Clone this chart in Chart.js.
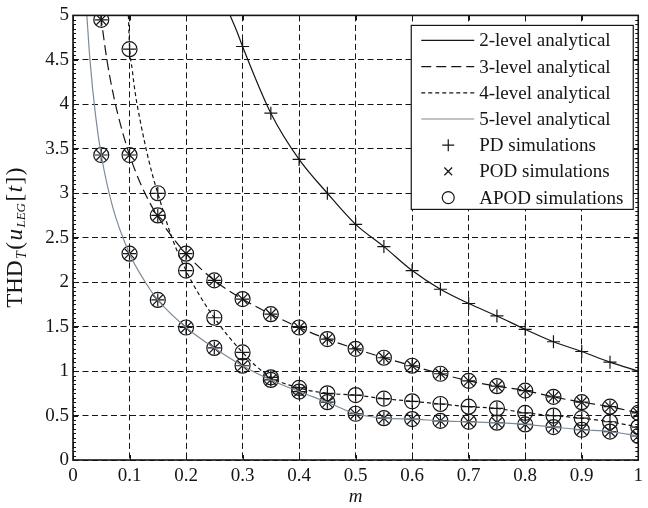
<!DOCTYPE html>
<html>
<head>
<meta charset="utf-8">
<script src="https://cdn.jsdelivr.net/npm/chart.js@4.4.1/dist/chart.umd.min.js"></script>
<style>
  html, body { margin: 0; padding: 0; background: #fff; }
</style>
</head>
<body>
<canvas id="thdChart" width="648" height="508"></canvas>
<script>
// tick values / labels
const xTicks = [0, 0.1, 0.2, 0.3, 0.4, 0.5, 0.6, 0.7, 0.8, 0.9, 1];
const xTickLabels = ['0', '0.1', '0.2', '0.3', '0.4', '0.5', '0.6', '0.7', '0.8', '0.9', '1'];
const yTicks = [0, 0.5, 1, 1.5, 2, 2.5, 3, 3.5, 4, 4.5, 5];
const yTickLabels = ['0', '0.5', '1', '1.5', '2', '2.5', '3', '3.5', '4', '4.5', '5'];

// modulation index used for the simulations
const mSim = [0.05, 0.1, 0.15, 0.2, 0.25, 0.3, 0.35, 0.4, 0.45, 0.5,
              0.55, 0.6, 0.65, 0.7, 0.75, 0.8, 0.85, 0.9, 0.95, 1.0];

// simulated THD per number of levels (null = off the chart)
const thd2Sim = [null, null, null, null, null, 4.65, 3.9, 3.38, 3.0, 2.65,
                 2.4, 2.13, 1.92, 1.76, 1.62, 1.47, 1.33, 1.22, 1.1, 1.0];
const thd3Sim = [4.95, 3.43, 2.75, 2.32, 2.02, 1.81, 1.64, 1.49, 1.36, 1.25,
                 1.15, 1.06, 0.97, 0.89, 0.83, 0.78, 0.71, 0.65, 0.6, 0.53];
const thd4Sim = [null, 4.62, 3.0, 2.13, 1.6, 1.21, 0.93, 0.81, 0.75, 0.73,
                 0.69, 0.66, 0.63, 0.6, 0.58, 0.53, 0.5, 0.47, 0.43, 0.37];
const thd5Sim = [3.43, 2.32, 1.8, 1.49, 1.26, 1.06, 0.9, 0.77, 0.65, 0.52,
                 0.47, 0.46, 0.44, 0.43, 0.42, 0.4, 0.37, 0.34, 0.32, 0.27];

// analytical curves
const m2Line = [0.278, 0.29, 0.3, 0.35, 0.4, 0.45, 0.5, 0.55, 0.6, 0.65, 0.7, 0.75, 0.8, 0.85, 0.9, 0.95, 1.0];
const thd2Line = [5.0, 4.82, 4.65, 3.9, 3.38, 3.0, 2.65, 2.4, 2.13, 1.92, 1.76, 1.62, 1.47, 1.33, 1.22, 1.1, 1.0];

const m3Line = [0.049, 0.06, 0.07, 0.08, 0.1, 0.125, 0.15, 0.2, 0.25, 0.3, 0.35, 0.4, 0.45, 0.5,
                0.55, 0.6, 0.65, 0.7, 0.75, 0.8, 0.85, 0.9, 0.95, 1.0];
const thd3Line = [5.0, 4.5, 4.15, 3.87, 3.43, 3.03, 2.74, 2.32, 2.02, 1.81, 1.64, 1.49, 1.36, 1.25,
                  1.15, 1.06, 0.97, 0.89, 0.83, 0.78, 0.71, 0.65, 0.6, 0.53];

const m4Line = [0.098, 0.1, 0.105, 0.11, 0.12, 0.13, 0.14, 0.15, 0.175, 0.2, 0.225, 0.25, 0.275, 0.3, 0.325,
                0.35, 0.4, 0.45, 0.5, 0.55, 0.6, 0.65, 0.7, 0.75, 0.8, 0.85, 0.9, 0.95, 1.0];
const thd4Line = [5.0, 4.66, 4.38, 4.13, 3.78, 3.48, 3.22, 3.0, 2.5, 2.13, 1.84, 1.6, 1.39, 1.21, 1.05,
                  0.93, 0.81, 0.75, 0.73, 0.69, 0.66, 0.63, 0.6, 0.58, 0.53, 0.5, 0.47, 0.43, 0.37];

const m5Line = [0.0245, 0.03, 0.04, 0.05, 0.07, 0.1, 0.125, 0.15, 0.2, 0.25, 0.3, 0.35, 0.4, 0.45, 0.5,
                0.55, 0.6, 0.65, 0.7, 0.75, 0.8, 0.85, 0.9, 0.95, 1.0];
const thd5Line = [5.0, 4.5, 3.87, 3.43, 2.85, 2.32, 2.03, 1.8, 1.49, 1.26, 1.06, 0.9, 0.77, 0.65, 0.52,
                  0.47, 0.46, 0.44, 0.43, 0.42, 0.4, 0.37, 0.34, 0.32, 0.27];

const serif = '"Liberation Serif", "Times New Roman", serif';
const ink = '#151515';

function simPoints(vals) {
    const out = [];
    vals.forEach((v, i) => {
        if (v !== null) out.push({ x: mSim[i], y: v });
    });
    return out;
}

function linePoints(ms, vals) {
    return ms.map((m, i) => ({ x: m, y: vals[i] }));
}

function analytical(label, ms, vals, color, dash) {
    return {
        label: label,
        data: linePoints(ms, vals),
        borderColor: color,
        borderWidth: 1.2,
        borderDash: dash,
        pointRadius: 0,
        fill: false,
        cubicInterpolationMode: 'monotone'
    };
}

function simulation(label, data, style, radius) {
    return {
        label: label,
        data: data,
        showLine: false,
        pointStyle: style,
        pointRadius: radius,
        pointBorderColor: ink,
        pointBackgroundColor: 'rgba(0,0,0,0)',
        pointBorderWidth: 1.2,
        borderColor: ink,
        backgroundColor: 'rgba(0,0,0,0)'
    };
}

// frame with inward ticks like the original
const frameTicks = {
    id: 'frameTicks',
    afterDatasetsDraw(chart) {
        const { ctx, chartArea: a, scales: { x, y } } = chart;
        ctx.save();
        ctx.strokeStyle = ink;
        ctx.setLineDash([]);
        ctx.lineWidth = 1;
        ctx.beginPath();
        xTicks.forEach(v => {
            const px = Math.round(x.getPixelForValue(v)) + 0.5;
            ctx.moveTo(px, a.bottom); ctx.lineTo(px, a.bottom - 5);
            ctx.moveTo(px, a.top); ctx.lineTo(px, a.top + 5);
        });
        yTicks.forEach(v => {
            const py = Math.round(y.getPixelForValue(v)) + 0.5;
            ctx.moveTo(a.left, py); ctx.lineTo(a.left + 5, py);
            ctx.moveTo(a.right, py); ctx.lineTo(a.right - 5, py);
        });
        // minor ticks on the vertical axes
        for (let i = 0; i <= 100; i++) {
            const py = Math.round(y.getPixelForValue(i * 0.05)) + 0.5;
            ctx.moveTo(a.left, py); ctx.lineTo(a.left + 3, py);
            ctx.moveTo(a.right, py); ctx.lineTo(a.right - 3, py);
        }
        ctx.stroke();
        ctx.lineWidth = 1.6;
        ctx.strokeRect(a.left, a.top, a.right - a.left, a.bottom - a.top);
        ctx.restore();
    }
};

// y title with subscripts: THD_T(u_LEG[t])
const yTitle = {
    id: 'yTitle',
    afterDraw(chart) {
        const { ctx, chartArea: a } = chart;
        const gap = 1.5;
        const parts = [
            { t: 'THD', f: '23px ' + serif, dy: 0 },
            { t: 'T', f: 'italic 14px ' + serif, dy: 6 },
            { t: '(', f: '23px ' + serif, dy: 0 },
            { t: 'u', f: 'italic 23px ' + serif, dy: 0 },
            { t: 'LEG', f: 'italic 13px ' + serif, dy: 6 },
            { t: '[', f: '23px ' + serif, dy: 0 },
            { t: 't', f: 'italic 23px ' + serif, dy: 0 },
            { t: ']', f: '23px ' + serif, dy: 0 },
            { t: ')', f: '23px ' + serif, dy: 0 }
        ];
        ctx.save();
        let total = 0;
        parts.forEach(p => { ctx.font = p.f; p.w = ctx.measureText(p.t).width; total += p.w + gap; });
        total -= gap;
        ctx.translate(16, (a.top + a.bottom) / 2);
        ctx.rotate(-Math.PI / 2);
        ctx.fillStyle = ink;
        ctx.textBaseline = 'middle';
        let cx = -total / 2;
        parts.forEach(p => {
            ctx.font = p.f;
            ctx.fillText(p.t, cx, p.dy);
            cx += p.w + gap;
        });
        ctx.restore();
    }
};

// boxed legend in the upper right corner
const boxLegend = {
    id: 'boxLegend',
    afterDraw(chart) {
        const { ctx, chartArea: a } = chart;
        const w = 222, h = 184;
        const x0 = a.right - 5 - w, y0 = a.top + 10;
        ctx.save();
        ctx.fillStyle = '#fff';
        ctx.fillRect(x0, y0, w, h);
        ctx.strokeStyle = ink;
        ctx.lineWidth = 1.2;
        ctx.setLineDash([]);
        ctx.strokeRect(x0, y0, w, h);
        ctx.font = '19px ' + serif;
        ctx.textBaseline = 'middle';
        chart.data.datasets.forEach((ds, i) => {
            const cy = y0 + 15 + i * 26.2;
            if (ds.showLine === false) {
                ctx.fillStyle = 'rgba(0,0,0,0)';
                ctx.strokeStyle = ink;
                ctx.setLineDash([]);
                Chart.helpers.drawPoint(ctx, {
                    pointStyle: ds.pointStyle,
                    radius: ds.pointStyle === 'crossRot' ? 5.5 : 6,
                    rotation: 0,
                    borderWidth: 1
                }, x0 + 37, cy);
            } else {
                ctx.strokeStyle = ds.borderColor;
                ctx.lineWidth = ds.borderWidth;
                ctx.setLineDash(ds.borderDash);
                ctx.beginPath();
                ctx.moveTo(x0 + 10, cy);
                ctx.lineTo(x0 + 63, cy);
                ctx.stroke();
            }
            ctx.fillStyle = ink;
            ctx.fillText(ds.label, x0 + 68, cy + 1);
        });
        ctx.restore();
    }
};

const ctx = document.getElementById('thdChart').getContext('2d');
new Chart(ctx, {
    type: 'line',
    data: {
        datasets: [
            analytical('2-level analytical', m2Line, thd2Line, ink, []),
            analytical('3-level analytical', m3Line, thd3Line, ink, [10, 5]),
            analytical('4-level analytical', m4Line, thd4Line, ink, [4, 3]),
            analytical('5-level analytical', m5Line, thd5Line, '#7d8b98', []),
            simulation('PD simulations',
                [...simPoints(thd2Sim), ...simPoints(thd3Sim), ...simPoints(thd4Sim), ...simPoints(thd5Sim)],
                'cross', 6.5),
            simulation('POD simulations',
                [...simPoints(thd3Sim), ...simPoints(thd5Sim)],
                'crossRot', 7),
            simulation('APOD simulations',
                [...simPoints(thd3Sim), ...simPoints(thd4Sim), ...simPoints(thd5Sim)],
                'circle', 7.5)
        ]
    },
    options: {
        responsive: false,
        animation: false,
        devicePixelRatio: 1,
        layout: { padding: { top: 13, right: 7, left: 0, bottom: 0 } },
        plugins: {
            legend: { display: false },
            tooltip: { enabled: false }
        },
        scales: {
            x: {
                type: 'linear',
                min: 0,
                max: 1,
                afterBuildTicks: scale => { scale.ticks = xTicks.map(v => ({ value: v })); },
                afterFit: scale => { scale.height = 48; },
                grid: { color: ink, lineWidth: 1, drawTicks: false },
                border: { display: false, dash: [6, 3.5] },
                ticks: {
                    padding: 5,
                    color: ink,
                    font: { family: serif, size: 19 },
                    maxRotation: 0,
                    callback: (value, index) => xTickLabels[index]
                },
                title: {
                    display: true,
                    text: 'm',
                    color: ink,
                    font: { family: serif, size: 19, style: 'italic' },
                    padding: { top: 0, bottom: 0 }
                }
            },
            y: {
                type: 'linear',
                min: 0,
                max: 5,
                afterBuildTicks: scale => { scale.ticks = yTicks.map(v => ({ value: v })); },
                afterFit: scale => { scale.width = 73; },
                grid: { color: ink, lineWidth: 1, drawTicks: false },
                border: { display: false, dash: [6, 3.5] },
                ticks: {
                    padding: 4,
                    color: ink,
                    font: { family: serif, size: 19 },
                    callback: (value, index) => yTickLabels[index]
                }
            }
        }
    },
    plugins: [frameTicks, yTitle, boxLegend]
});
</script>
</body>
</html>
